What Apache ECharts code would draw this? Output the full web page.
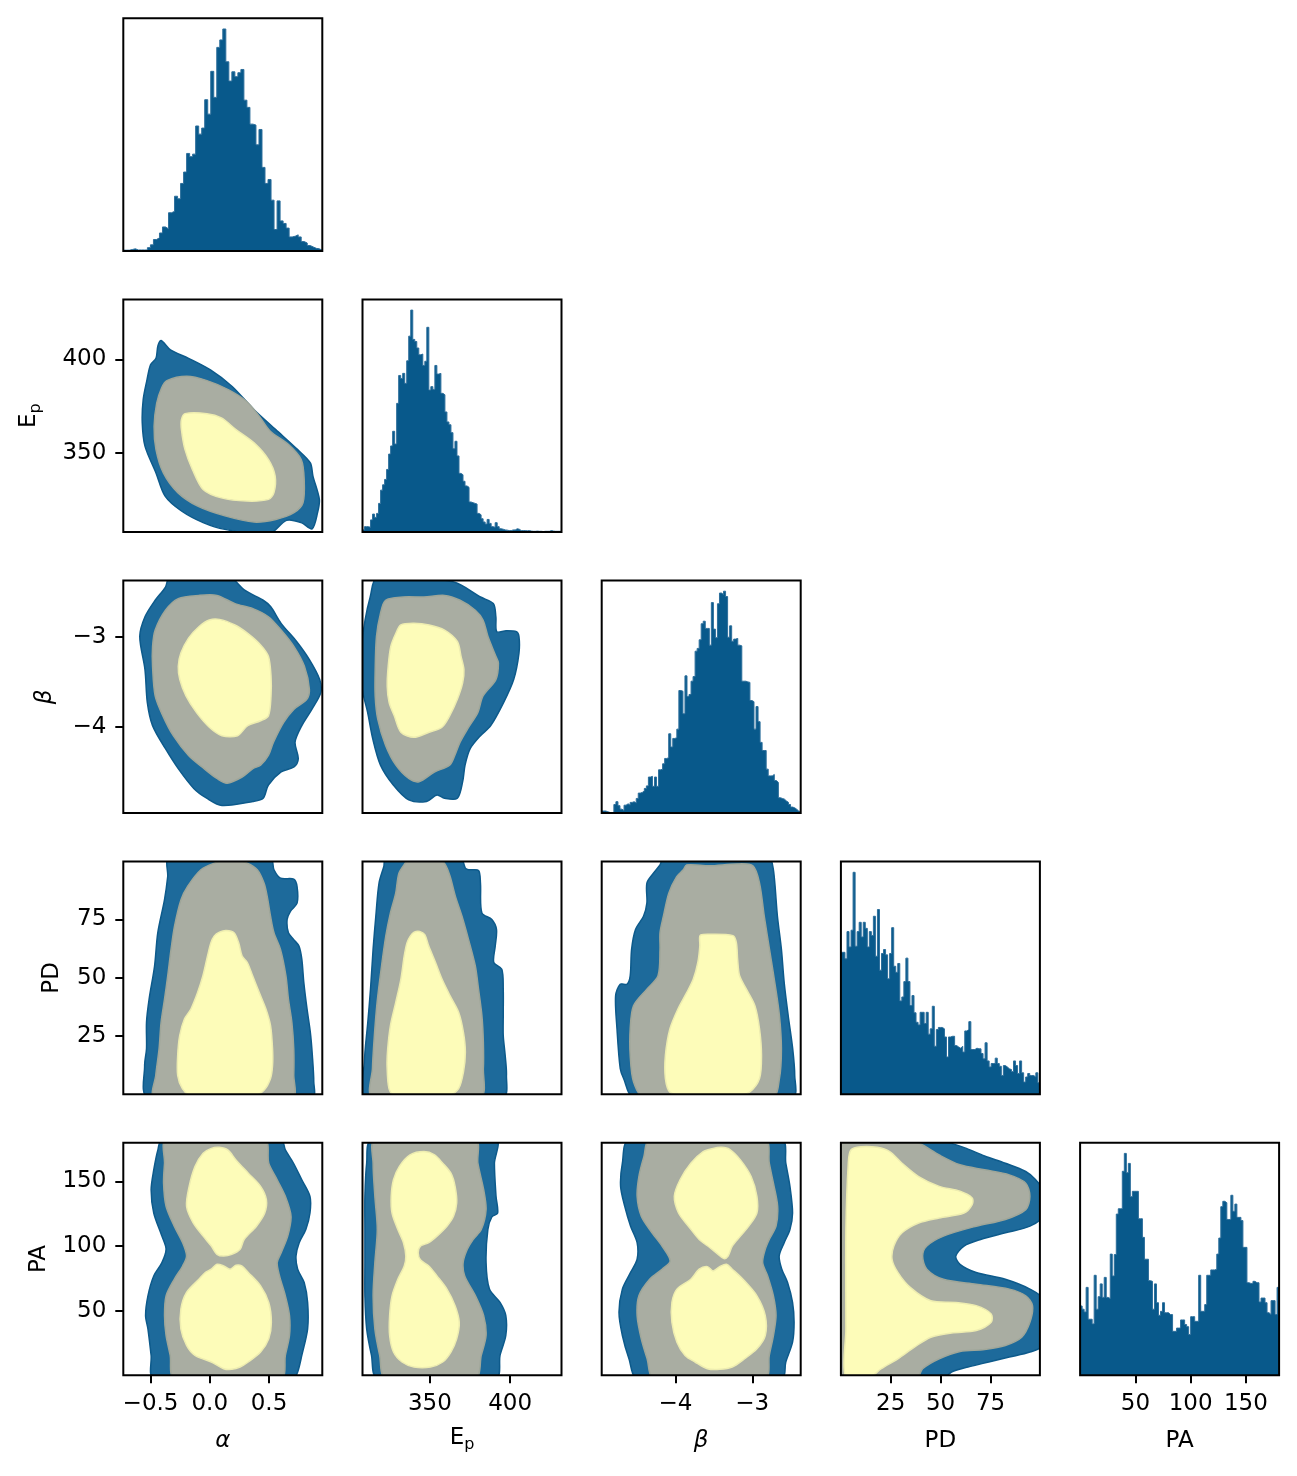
<!DOCTYPE html>
<html>
<head>
<meta charset="utf-8">
<script src="https://cdn.jsdelivr.net/npm/echarts@6/dist/echarts.min.js"></script>
<style>
  html, body { margin: 0; background: #fff; }
  #chart { width: 1297px; height: 1476px; }
</style>
</head>
<body>
<div id="chart"></div>
<script>
// axis ranges of the 5 parameters (alpha, Ep, beta, PD, PA)
const paramRanges = [[-0.73, 0.95], [308, 432], [-4.96, -2.37], [0.1, 99.7], [0, 180]];
const alphaTicks = [-0.5, 0, 0.5];
const epTicks = [350, 400];
const betaTicks = [-4, -3];
const pdTicks = [25, 50, 75];
const paTicks = [50, 100, 150];

// 1d histograms, heights in % of panel height
const histAlpha = [0.3,0.3,0.6,0.9,0.4,0.4,0.4,0.4,1.4,2.6,4.9,5.6,7.7,10.3,9.5,16.4,17,23.5,22.4,29,33.9,41.9,40.5,41.6,53.7,50.2,52.8,65,58.8,77.2,66,87.5,90.7,95.4,81.3,73,77,74.9,76.6,78,64.8,61.7,54.5,54.1,45.6,52.2,35.9,29,30.7,21.8,9.2,21.5,12.9,11.8,9.8,6,6.3,6.9,6,4,3.4,2.3,1.7,1.1,0.9,0.3];
const histEp = [0.9,2.3,2.3,2,5.2,7.7,6.3,8,12.3,18,20.3,22.6,26.9,33.5,37,43.3,37.8,55.3,67.3,66,68.2,63.9,73.6,84.2,95.4,82.8,81.9,79.1,76.2,76.5,71.6,73.4,88,61,62.5,61.3,71.6,67.9,68.2,59.6,59,51.6,47.3,46.1,42.7,35.8,39,32.7,25.2,24.6,21.8,19.8,19.2,12.9,12.6,12.3,12,8,7.4,5.7,4.3,3.4,5.4,3.7,2.3,2,4,2.3,1.4,1.2,0.9,0.8,0.6,0.6,0.9,0.9,1.4,1.2,0.6,0.6,0.6,0.5,0.6,0.4,0.3,0.3,0.4,0.3,0.3,0.2,0.3,0.3,0.3,0.6,0.4,0.3,0.3,0.3,0.3];
const histBeta = [0.9,0.9,0.6,0.3,0.1,0.1,3.7,4.9,3.2,1.7,1.1,3.4,4,3.4,4.6,4.9,4.3,6.3,8.6,8.9,9.5,10.6,11.7,15.5,15.8,11.5,15.5,11.5,18.6,18.9,21.2,23.5,23.8,34.1,28.4,32.1,32.4,36.1,52.7,52.4,42.7,59,50.1,51,56.7,58.7,69.6,70.8,74.5,81.4,82.5,79.4,79.4,72.2,90.5,79.1,75.4,90,94.6,94,95.4,93.1,75.6,80.5,73.9,74.8,75.1,72.2,71.9,56.7,56.7,56.4,56.2,48.4,47.9,36.1,45.8,39.3,30.4,26.9,26.9,18.9,16,16,16.6,14,13.2,6.6,6.3,6,5.2,4.6,3.7,2.6,2.3,1.7,0.9,0.6];
const histPD = [61,61,58.2,69.9,63.3,70.5,95.4,63.6,69.9,73.9,67.6,73.9,71.3,63.3,69.9,68.2,76.5,59.3,79.4,53.3,60.5,62.2,59.9,49.6,60.5,71.6,55,52.4,56.2,40.1,41.8,48.4,58.5,48.4,38.1,42.4,35,30.9,29.8,35.2,35.2,30.4,35.2,25.8,28.1,37.8,20.6,27.8,28.7,28.7,28.1,24.6,16,24.6,24.9,24.9,20.9,20.3,19.8,20.6,18.1,27.2,27.8,31.2,19.2,19.2,19.8,19.5,19.5,17.5,15.2,22.1,14.3,11.7,13.2,13.2,15.5,13.2,12,8,12.3,11.7,10.9,10.6,9.7,14.3,12.3,8.9,14.3,9.2,5.2,7.4,8.9,8,8,7.4,9.2,4.9];
const histPA = [29.8,28.4,27.2,37.8,24.1,24.1,22.1,43,28.4,33.8,39.3,33.5,42.1,33.5,33,52.1,42.7,51.9,69.3,71.6,71.6,87.7,95.4,87.1,91.1,76.8,79.1,79.1,79.1,67.3,67.3,59.3,49.9,49.9,40.7,40.4,28.4,39.3,31.2,25.8,27.5,31.2,26.9,26.9,26.1,26.1,18.9,18.9,20.3,20.3,23.8,23.8,21.8,20.9,17.5,25.2,25.2,23.2,23.2,43,27.5,27.5,30.4,43,43,45.3,45.3,45.6,52.1,59,72.5,74.8,74.2,67,67,77.4,70.5,73.6,67.9,67.9,66.5,55,55,39.8,39.5,39.5,40.4,39.8,39.8,31.5,33.2,33.2,31.2,26.9,26.1,32.1,32.1,26.1,37.8];

// 2d credible regions: outer (blue), middle (grey), inner (yellow), [x, y] in data units
const alphaEpOuter = [[-0.411,410.1],[-0.332,405.1],[-0.179,400.6],[0.006,394.4],[0.189,385.6],[0.374,373.2],[0.557,362.6],[0.742,351.9],[0.849,344.8],[0.871,337.8],[0.925,325.4],[0.91,318.3],[0.864,309.7],[0.772,313],[0.648,314.2],[0.496,306.8],[0.127,309.4],[-0.056,313],[-0.239,319.2],[-0.377,327.1],[-0.454,339.5],[-0.547,353.8],[-0.57,366.2],[-0.562,378.6],[-0.53,389.1],[-0.5,397.2],[-0.454,400.6],[-0.438,407.2]];
const alphaEpMid = [[-0.362,388.7],[-0.194,391],[-0.024,388.7],[0.159,383.8],[0.312,377.6],[0.419,369.6],[0.511,361.7],[0.665,354.6],[0.772,346.6],[0.797,336],[0.787,323.6],[0.711,318.3],[0.557,314.7],[0.374,313.3],[0.128,316.6],[-0.102,321.8],[-0.27,329],[-0.392,339.5],[-0.454,351.9],[-0.47,364.3],[-0.448,376.7],[-0.407,384.8]];
const alphaEpInner = [[-0.209,371.1],[-0.024,371.1],[0.098,368.8],[0.221,362.6],[0.374,355.5],[0.496,346.6],[0.552,337.8],[0.542,329],[0.496,325.4],[0.312,324.5],[0.098,326.2],[-0.056,330.7],[-0.147,341.4],[-0.209,351.9],[-0.239,362.6],[-0.239,367.9]];

const alphaBetaOuter = [[-0.33,-2.3],[0.0,-2.3],[0.17,-2.33],[0.298,-2.481],[0.451,-2.59],[0.515,-2.663],[0.602,-2.847],[0.733,-3.049],[0.841,-3.251],[0.928,-3.473],[0.937,-3.618],[0.863,-3.802],[0.777,-3.986],[0.72,-4.17],[0.747,-4.354],[0.711,-4.445],[0.602,-4.502],[0.495,-4.647],[0.451,-4.794],[0.364,-4.83],[0.103,-4.875],[-0.026,-4.794],[-0.135,-4.685],[-0.266,-4.465],[-0.374,-4.243],[-0.483,-3.986],[-0.527,-3.73],[-0.547,-3.362],[-0.591,-2.994],[-0.547,-2.774],[-0.461,-2.59],[-0.374,-2.443]];
const alphaBetaMid = [[-0.266,-2.572],[-0.092,-2.536],[0.06,-2.536],[0.212,-2.627],[0.364,-2.683],[0.495,-2.774],[0.602,-2.922],[0.711,-3.106],[0.799,-3.326],[0.841,-3.582],[0.819,-3.693],[0.711,-3.802],[0.624,-3.95],[0.538,-4.17],[0.495,-4.318],[0.429,-4.426],[0.364,-4.465],[0.276,-4.556],[0.147,-4.628],[0.06,-4.574],[-0.048,-4.465],[-0.179,-4.318],[-0.308,-4.098],[-0.396,-3.877],[-0.461,-3.655],[-0.483,-3.326],[-0.483,-3.106],[-0.461,-2.922],[-0.374,-2.701]];
const alphaBetaInner = [[-0.004,-2.81],[0.081,-2.803],[0.212,-2.865],[0.32,-2.958],[0.429,-3.087],[0.495,-3.214],[0.517,-3.434],[0.517,-3.655],[0.495,-3.877],[0.429,-3.932],[0.32,-3.986],[0.234,-4.098],[0.103,-4.098],[-0.004,-4.004],[-0.113,-3.839],[-0.201,-3.655],[-0.253,-3.473],[-0.266,-3.326],[-0.244,-3.178],[-0.179,-3.012],[-0.092,-2.885]];

const epBetaOuter = [[317,-2.33],[340,-2.33],[365.5,-2.39],[381.5,-2.554],[389.5,-2.627],[391.1,-2.774],[391.7,-2.94],[397.5,-2.929],[403.9,-2.94],[405.5,-2.994],[405.5,-3.178],[402.2,-3.473],[395.9,-3.73],[387.9,-3.986],[381.5,-4.098],[375.1,-4.243],[371.9,-4.426],[370.4,-4.61],[367.1,-4.794],[359.1,-4.794],[354.4,-4.758],[347.9,-4.83],[336.8,-4.812],[327.2,-4.647],[319.2,-4.426],[314.4,-4.134],[311.2,-3.839],[307.5,-3.546],[307.5,-3.106],[309.6,-2.81],[312.8,-2.554]];
const epBetaMid = [[322.4,-2.59],[333.5,-2.554],[346.3,-2.554],[359.1,-2.536],[368.8,-2.59],[378.3,-2.701],[383.1,-2.81],[386.2,-2.994],[391.1,-3.214],[392.7,-3.289],[391.1,-3.473],[383.1,-3.655],[379.9,-3.839],[373.5,-4.022],[368.8,-4.17],[365.5,-4.318],[362.3,-4.426],[352.8,-4.502],[343.2,-4.61],[336.8,-4.574],[328.8,-4.426],[322.4,-4.206],[317.5,-3.914],[315.9,-3.655],[315.9,-3.362],[316.7,-2.994],[319.2,-2.738]];
const epBetaInner = [[331.9,-2.865],[340,-2.847],[349.5,-2.865],[359.1,-2.922],[367.1,-3.049],[369.4,-3.214],[371.2,-3.362],[370.4,-3.51],[367.1,-3.693],[362.3,-3.877],[357.5,-4.004],[349.5,-4.059],[340,-4.116],[331.9,-4.059],[327.8,-3.877],[324.6,-3.73],[323.4,-3.546],[324,-3.326],[325.6,-3.106],[328.8,-2.958]];

const alphaPdOuter = [[-0.344,101],[0.513,101],[0.542,96.2],[0.597,92.6],[0.709,92.2],[0.737,89],[0.737,81.9],[0.681,78.4],[0.653,74.9],[0.664,69.2],[0.709,66.3],[0.753,63.5],[0.777,57.9],[0.794,47.9],[0.821,36.6],[0.849,26.6],[0.866,16.7],[0.878,5.4],[0.866,-1],[-0.523,-1],[-0.55,12.4],[-0.534,19.5],[-0.534,30.9],[-0.512,40.8],[-0.466,55],[-0.439,69.2],[-0.382,83.4],[-0.355,93.3]];
const alphaPdMid = [[-0.075,96.2],[0.037,99],[0.177,101],[0.317,99],[0.401,96.2],[0.458,90.5],[0.485,84.8],[0.513,76.3],[0.542,69.2],[0.597,62.1],[0.643,50.8],[0.664,40.8],[0.693,30.9],[0.709,19.5],[0.709,8.2],[0.698,-1],[-0.466,-1],[-0.456,8.2],[-0.428,19.5],[-0.411,30.9],[-0.382,40.8],[-0.355,50.8],[-0.327,62.1],[-0.298,72],[-0.243,83.4],[-0.187,89.1]];
const alphaPdInner = [[0.037,67.8],[0.082,69.5],[0.139,70.2],[0.205,69.2],[0.244,64.9],[0.273,59.3],[0.317,56.5],[0.362,50.8],[0.418,43.6],[0.474,36.6],[0.513,29.5],[0.53,19.5],[0.53,12.4],[0.513,6.8],[0.458,1.8],[0.374,-0.5],[-0.159,-0.5],[-0.231,2.5],[-0.271,8.2],[-0.271,16.7],[-0.254,25.2],[-0.214,32.3],[-0.159,36.6],[-0.103,43.6],[-0.058,50.8],[-0.019,59.3],[0.009,64.9]];

const epPdOuter = [[322.5,101],[369.2,101],[372.1,96.9],[374.1,96.2],[380.3,95.9],[381.5,90.5],[382.4,77.7],[388.6,74.9],[391.5,70.6],[390.7,63.5],[389.8,56.5],[394.8,53.6],[395.7,45.1],[395.7,33.8],[395.7,25.2],[396.9,16.7],[397.7,8.2],[395.7,-1],[310.1,-1],[309.2,14.1],[311.3,30.9],[313,45.1],[314.6,62.1],[316.3,76.3],[318.3,90.5],[321.3,97.6]];
const epPdMid = [[328.7,86.2],[330.7,94.7],[334.9,99.3],[336.9,101],[355.5,101],[359.7,98.3],[362.6,93.3],[365.9,84.8],[370,76.3],[374.1,66.3],[378.3,55],[380.3,45.1],[382.4,33.8],[383.3,22.4],[383.3,11.1],[381.5,-1],[314.2,-1],[314.2,11.1],[315.4,25.2],[317.1,39.4],[319.6,53.6],[322.5,67.8],[325.4,77.7]];
const epPdInner = [[337.8,67.8],[340.2,69.5],[343.6,69.8],[346.8,68.4],[349.3,63.5],[353.5,56.5],[357.6,49.3],[362.6,42.2],[367.9,35.2],[370.9,26.6],[372.1,18.1],[370.9,9.6],[367.9,2.5],[361.7,-0.5],[327.8,-0.5],[324.5,2.5],[323.3,12.4],[323.7,19.5],[325.4,29.5],[328.7,39.4],[331.9,49.3],[334,59.3],[335.7,64.9]];

const betaPdOuter = [[-4.157,101],[-2.776,101],[-2.733,97.6],[-2.707,90.5],[-2.673,76.3],[-2.621,62.1],[-2.585,47.9],[-2.533,33.8],[-2.474,19.5],[-2.448,8.2],[-2.474,-1],[-4.546,-1],[-4.675,6.8],[-4.719,11.1],[-4.761,28.1],[-4.779,42.2],[-4.719,47.2],[-4.631,47.2],[-4.589,50.8],[-4.571,62.1],[-4.52,70.6],[-4.416,76.3],[-4.372,81.9],[-4.372,90.5],[-4.287,94.7],[-4.201,98.3]];
const betaPdMid = [[-3.898,96.2],[-3.854,98.3],[-3.554,97.9],[-3.207,98.7],[-2.992,97.9],[-2.906,90.5],[-2.844,76.3],[-2.776,62.1],[-2.707,47.9],[-2.647,33.8],[-2.621,19.5],[-2.647,6.8],[-2.733,-1],[-4.416,-1],[-4.546,5.4],[-4.589,16.7],[-4.589,28.1],[-4.546,38],[-4.372,45.1],[-4.227,50.8],[-4.201,62.1],[-4.201,69.2],[-4.157,76.3],[-4.087,86.2],[-3.984,93.3]];
const betaPdInner = [[-3.683,67.8],[-3.639,68.5],[-3.251,68],[-3.207,64.9],[-3.191,57.9],[-3.165,50.8],[-3.077,45.1],[-2.966,38],[-2.906,28.1],[-2.88,16.7],[-2.906,6.8],[-3.036,1],[-3.207,-0.5],[-3.898,-0.5],[-4.072,1],[-4.131,6.8],[-4.131,16.7],[-4.072,28.1],[-3.968,36.6],[-3.854,43.6],[-3.769,49.3],[-3.709,56.5],[-3.683,63.5]];

const alphaPaOuter = [[0.603,182],[0.638,174.4],[0.707,164.1],[0.777,151.3],[0.846,138.5],[0.846,125.6],[0.811,112.8],[0.755,102.6],[0.728,92.3],[0.742,82.1],[0.797,71.8],[0.826,56.4],[0.826,35.9],[0.777,15.4],[0.742,2.6],[0.707,-2],[-0.473,-2],[-0.495,15.4],[-0.522,35.9],[-0.542,46.2],[-0.522,61.5],[-0.473,76.9],[-0.404,87.2],[-0.369,97.5],[-0.404,107.7],[-0.473,125.6],[-0.495,143.6],[-0.473,158.9],[-0.438,174.4],[-0.404,182]];
const alphaPaMid = [[0.464,182],[0.498,164.1],[0.569,151.3],[0.638,138.5],[0.686,123.1],[0.658,107.7],[0.603,94.9],[0.569,87.2],[0.589,76.9],[0.638,61.5],[0.673,46.2],[0.673,30.8],[0.638,15.4],[0.603,-2],[-0.3,-2],[-0.334,15.4],[-0.369,30.8],[-0.382,46.2],[-0.369,61.5],[-0.3,74.3],[-0.229,84.6],[-0.196,92.3],[-0.229,102.6],[-0.3,115.4],[-0.369,130.8],[-0.39,148.7],[-0.382,164.1],[-0.369,182]];
const alphaPaInnerTop = [[-0.056,171.8],[0.013,175.6],[0.081,176.4],[0.152,174.4],[0.221,166.7],[0.325,156.4],[0.429,146.2],[0.478,135.9],[0.464,125.6],[0.394,115.4],[0.29,105.1],[0.256,97.5],[0.186,93.6],[0.117,92.3],[0.061,93.6],[0.013,100],[-0.056,107.7],[-0.14,117.9],[-0.196,130.8],[-0.174,146.2],[-0.125,161.5]];
const alphaPaInnerBottom = [[0.013,82.1],[0.061,85.9],[0.117,84.6],[0.172,82.1],[0.221,85.1],[0.27,84.6],[0.325,79.6],[0.429,69.2],[0.498,56.4],[0.52,41],[0.498,28.2],[0.429,18],[0.325,10.3],[0.256,6.4],[0.186,4.6],[0.117,5.1],[0.013,10.3],[-0.125,15.4],[-0.196,23.1],[-0.244,35.9],[-0.244,51.3],[-0.196,64.1],[-0.092,74.3],[-0.036,79.6]];

const epPaOuter = [[391.2,182],[390.2,164.1],[391.2,138.5],[392.2,125.6],[388.6,122.6],[386.1,112.8],[385,87.2],[387.1,66.7],[393.7,56.4],[397.3,46.2],[397.3,30.8],[393.7,15.4],[391.2,-2],[317.2,-2],[313.6,15.4],[310.6,35.9],[309.5,61.5],[309.5,87.2],[309.5,112.8],[309.5,138.5],[310.6,164.1],[313.6,182]];
const epPaMid = [[378.4,182],[379.9,164.1],[383.5,143.6],[385,128.2],[382,112.8],[376.9,105.1],[373.3,97.5],[370.7,87.2],[371.7,76.9],[378.4,61.5],[383.5,46.2],[385,30.8],[382,15.4],[378.4,-2],[322.3,-2],[318.7,15.4],[315.7,35.9],[314.6,61.5],[315.7,87.2],[317.2,112.8],[315.7,138.5],[314.6,164.1],[315.7,182]];
const epPaInner = [[330.9,161.5],[337.6,170.5],[346.3,173.1],[352.9,170.5],[358,164.1],[363.1,156.4],[365.7,146.2],[366.7,133.3],[364.7,123.1],[360.6,115.4],[354.4,107.7],[349.3,102.6],[344.2,100],[342.7,94.9],[344.2,89.2],[349.3,84.6],[354.4,76.9],[360.6,66.7],[365.7,53.9],[368.3,41],[366.7,28.2],[363.1,18],[358,10.3],[350.4,6.4],[340.1,6.4],[332.6,10.3],[327.3,18],[324.9,30.8],[324.9,46.2],[326.4,61.5],[330,74.3],[334,84.6],[335,92.3],[333.5,102.6],[330,112.8],[326.4,125.6],[325.9,138.5],[327.3,151.3]];

const betaPaOuter = [[-2.616,182],[-2.564,164.1],[-2.51,146.2],[-2.476,125.6],[-2.51,112.8],[-2.585,102.6],[-2.65,92.3],[-2.616,82.1],[-2.541,71.8],[-2.476,56.4],[-2.456,41],[-2.476,25.6],[-2.564,10.3],[-2.616,-2],[-4.499,-2],[-4.605,12.8],[-4.691,30.8],[-4.735,48.7],[-4.691,66.7],[-4.584,79.6],[-4.499,89.8],[-4.499,102.6],[-4.584,115.4],[-4.66,130.8],[-4.714,146.2],[-4.691,164.1],[-4.605,182]];
const betaPaMid = [[-2.831,182],[-2.779,164.1],[-2.725,148.7],[-2.67,130.8],[-2.691,115.4],[-2.779,105.1],[-2.831,97.5],[-2.865,87.2],[-2.8,76.9],[-2.725,61.5],[-2.691,46.2],[-2.725,30.8],[-2.779,15.4],[-2.831,-2],[-4.284,-2],[-4.369,12.8],[-4.445,28.2],[-4.499,46.2],[-4.476,61.5],[-4.336,74.3],[-4.175,82.1],[-4.069,88.5],[-4.175,100],[-4.305,110.3],[-4.445,123.1],[-4.499,138.5],[-4.476,153.8],[-4.411,169.2],[-4.336,182]];
const betaPaInnerTop = [[-3.639,173.1],[-3.51,175.6],[-3.401,176.4],[-3.295,174.9],[-3.155,166.7],[-3.015,153.8],[-2.94,138.5],[-2.94,125.6],[-3.046,115.4],[-3.155,107.7],[-3.261,100],[-3.315,92.3],[-3.37,90.3],[-3.445,93.6],[-3.551,98.7],[-3.691,105.1],[-3.831,115.4],[-3.96,125.6],[-4.015,138.5],[-3.94,151.3],[-3.8,164.1]];
const betaPaInnerBottom = [[-3.8,74.3],[-3.691,82.1],[-3.585,84.1],[-3.51,80.8],[-3.424,84.1],[-3.336,85.9],[-3.261,82.1],[-3.121,74.3],[-2.94,61.5],[-2.831,46.2],[-2.831,30.8],[-2.94,20.5],[-3.1,12.8],[-3.261,6.4],[-3.424,4.6],[-3.585,5.1],[-3.745,10.3],[-3.875,15.4],[-3.981,25.6],[-4.046,41],[-4.046,56.4],[-3.981,66.7]];

const pdPaOuter = [[-5,182],[49.3,182],[55.5,179.5],[62.9,175.6],[72,169.7],[82.4,164.1],[92.6,157.7],[97.6,151.3],[101,143.6],[101,123.1],[94.7,115.4],[82.4,110.3],[70,105.1],[61.7,100],[57.6,92.3],[59.7,85.9],[67.8,79.6],[82.4,74.3],[94.7,66.7],[101,59],[101,23.1],[94.7,18],[84.4,14.1],[74.1,10.3],[63.7,6.4],[55.5,2.6],[51.4,-2],[-5,-2]];
const pdPaMid = [[-5,182],[34.8,182],[41,178.2],[49.3,170.5],[59.7,162.9],[72,159],[84.4,155.1],[92.6,148.7],[94.7,138.5],[92.6,128.2],[82.4,120.6],[67.8,115.4],[51.4,107.7],[43.1,100],[41,92.3],[43.1,82.1],[51.4,74.3],[67.8,70.5],[84.4,66.7],[92.6,61.5],[96,53.9],[94.7,41],[90.6,29.5],[82.4,23.1],[72,20],[59.7,18.5],[49.3,12.8],[41,5.1],[38.1,-2],[-5,-2]];
const pdPaInner = [[5.1,174.4],[10.1,176.9],[18.3,176.4],[24.5,173.1],[30.7,164.1],[39,153.8],[49.3,146.2],[59.7,142.4],[65.8,137.2],[65.8,132.1],[61.7,125.6],[49.3,121.8],[39,117.9],[30.7,110.3],[26.6,100],[25.7,89.8],[28.6,79.6],[34.8,68],[45.1,57.7],[57.6,56.4],[67.8,53.9],[75.3,47.5],[75.3,41],[67.8,34.6],[55.5,32.8],[45.1,29.5],[36.9,21.8],[28.6,12.8],[20.3,5.1],[14.1,-2],[2.6,-2],[2.6,35.9],[2.6,112.8],[3.8,164.1]];

const FONT = 'DejaVu Sans';
const HIST_FILL = '#08598b';
const OUTER = ['#1d6a9b', '#0d5a8b'];
const MID = ['#a9ada2', '#9fa699'];
const INNER = ['#fdfcb9', '#eeedb0'];

const tickLists = [alphaTicks, epTicks, betaTicks, pdTicks, paTicks];
const hists = [histAlpha, histEp, histBeta, histPD, histPA];
// lower-triangle panels: "row,col" -> list of [polygon, colours]
const panels = {
  '1,0': [[alphaEpOuter, OUTER], [alphaEpMid, MID], [alphaEpInner, INNER]],
  '2,0': [[alphaBetaOuter, OUTER], [alphaBetaMid, MID], [alphaBetaInner, INNER]],
  '2,1': [[epBetaOuter, OUTER], [epBetaMid, MID], [epBetaInner, INNER]],
  '3,0': [[alphaPdOuter, OUTER], [alphaPdMid, MID], [alphaPdInner, INNER]],
  '3,1': [[epPdOuter, OUTER], [epPdMid, MID], [epPdInner, INNER]],
  '3,2': [[betaPdOuter, OUTER], [betaPdMid, MID], [betaPdInner, INNER]],
  '4,0': [[alphaPaOuter, OUTER], [alphaPaMid, MID], [alphaPaInnerTop, INNER], [alphaPaInnerBottom, INNER]],
  '4,1': [[epPaOuter, OUTER], [epPaMid, MID], [epPaInner, INNER]],
  '4,2': [[betaPaOuter, OUTER], [betaPaMid, MID], [betaPaInnerTop, INNER], [betaPaInnerBottom, INNER]],
  '4,3': [[pdPaOuter, OUTER], [pdPaMid, MID], [pdPaInner, INNER]]
};

const richEp = {
  e: { fontSize: 23, lineHeight: 24, fontFamily: FONT, color: '#000' },
  s: { fontSize: 16, lineHeight: 16, padding: [14, 0, 0, 0], fontFamily: FONT, color: '#000' }
};
const axisNames = [
  { name: 'α', style: { fontStyle: 'italic' }, xGap: 54, yGap: 70 },
  { name: '{e|E}{s|p}', style: { rich: richEp }, xGap: 50.5, yGap: 82 },
  { name: 'β', style: { fontStyle: 'italic' }, xGap: 54, yGap: 67 },
  { name: 'PD', style: {}, xGap: 54, yGap: 60 },
  { name: 'PA', style: {}, xGap: 54, yGap: 73 }
];

function tickText(p, v) {
  const sign = v < 0 ? '\u2212' : '';
  const a = Math.abs(v);
  return sign + (p === 0 ? a.toFixed(1) : String(a));
}

function valueAxis(idx, p, show, isY) {
  const r = paramRanges[p];
  const nm = axisNames[p];
  return {
    type: 'value', gridIndex: idx, min: r[0], max: r[1],
    axisLine: { show: false, onZero: false }, splitLine: { show: false },
    axisTick: { show: show, customValues: tickLists[p], length: 8, lineStyle: { color: '#000', width: 2 } },
    axisLabel: {
      show: show, customValues: tickLists[p], margin: 17,
      fontFamily: FONT, fontSize: 23, color: '#000',
      formatter: (v) => tickText(p, v)
    },
    name: show ? nm.name : '',
    nameLocation: 'middle',
    nameGap: isY ? nm.yGap : nm.xGap,
    nameRotate: isY ? 90 : 0,
    nameMoveOverlap: false,
    nameTextStyle: Object.assign({ fontFamily: FONT, fontSize: 23, color: '#000' }, nm.style)
  };
}

function polygonSeries(idx, pts, colors) {
  return {
    type: 'custom', xAxisIndex: idx, yAxisIndex: idx, clip: true, silent: true,
    data: [pts[0]],
    renderItem: (params, api) => ({
      type: 'polygon',
      shape: { points: pts.map((pt) => api.coord(pt)), smooth: 0.3 },
      style: { fill: colors[0], stroke: colors[1], lineWidth: 1.5 }
    })
  };
}

function histSeries(idx, p) {
  const h = hists[p];
  const [lo, hi] = paramRanges[p];
  const n = h.length;
  const data = h.map((v, i) => [lo + (hi - lo) * i / n, v]);
  data.push([hi, h[n - 1]]);
  return {
    type: 'line', xAxisIndex: idx, yAxisIndex: idx, data: data, step: 'end',
    symbol: 'none', silent: true,
    lineStyle: { color: '#2c6e9b', width: 1 },
    areaStyle: { color: HIST_FILL, opacity: 1 }
  };
}

const grids = [];
const xAxes = [];
const yAxes = [];
const series = [];
for (let row = 0; row < 5; row++) {
  for (let col = 0; col <= row; col++) {
    const idx = grids.length;
    grids.push({
      left: 123.3 + 239.2 * col, top: 18.3 + 281.1 * row, width: 199, height: 232.6,
      show: true, borderColor: '#000', borderWidth: 2, backgroundColor: 'rgba(0,0,0,0)',
      containLabel: false, outerBoundsMode: 'none', z: 10
    });
    xAxes.push(valueAxis(idx, col, row === 4, false));
    if (row === col) {
      yAxes.push({ type: 'value', gridIndex: idx, min: 0, max: 100, show: false });
      series.push(histSeries(idx, col));
    } else {
      yAxes.push(valueAxis(idx, row, col === 0, true));
      panels[row + ',' + col].forEach(([pts, colors]) => series.push(polygonSeries(idx, pts, colors)));
    }
  }
}

const chart = echarts.init(document.getElementById('chart'));
chart.setOption({
  animation: false,
  backgroundColor: '#fff',
  grid: grids,
  xAxis: xAxes,
  yAxis: yAxes,
  series: series
});
</script>
</body>
</html>
